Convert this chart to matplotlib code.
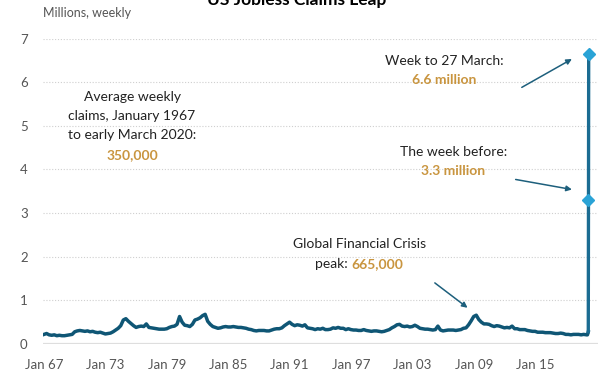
import numpy as np
import matplotlib.pyplot as plt

plt.rcParams['font.family'] = ['Lato', 'DejaVu Sans']

# weekly initial jobless claims (millions), one reading per quarter
years = list(range(1967, 2020))
quarterly_claims = [
    [0.22, 0.24, 0.21, 0.20],  # 1967
    [0.21, 0.19, 0.20, 0.19],
    [0.19, 0.20, 0.21, 0.22],
    [0.28, 0.30, 0.31, 0.30],  # 1970
    [0.29, 0.30, 0.28, 0.29],
    [0.27, 0.26, 0.27, 0.25],
    [0.23, 0.24, 0.25, 0.28],
    [0.32, 0.36, 0.42, 0.55],
    [0.58, 0.52, 0.47, 0.42],  # 1975
    [0.38, 0.40, 0.41, 0.40],
    [0.46, 0.38, 0.37, 0.36],
    [0.35, 0.34, 0.34, 0.34],
    [0.35, 0.38, 0.40, 0.41],
    [0.45, 0.63, 0.50, 0.43],  # 1980
    [0.42, 0.40, 0.45, 0.55],
    [0.57, 0.60, 0.65, 0.68],
    [0.52, 0.45, 0.40, 0.38],
    [0.36, 0.37, 0.39, 0.40],
    [0.39, 0.39, 0.40, 0.39],  # 1985
    [0.38, 0.38, 0.37, 0.36],
    [0.34, 0.33, 0.31, 0.30],
    [0.31, 0.31, 0.31, 0.30],
    [0.30, 0.32, 0.34, 0.35],
    [0.35, 0.37, 0.42, 0.46],  # 1990
    [0.50, 0.45, 0.42, 0.44],
    [0.43, 0.41, 0.44, 0.37],
    [0.36, 0.35, 0.33, 0.35],
    [0.34, 0.36, 0.33, 0.33],
    [0.34, 0.37, 0.36, 0.38],  # 1995
    [0.36, 0.36, 0.33, 0.35],
    [0.33, 0.32, 0.32, 0.31],
    [0.31, 0.33, 0.31, 0.30],
    [0.29, 0.30, 0.30, 0.29],
    [0.28, 0.29, 0.31, 0.33],  # 2000
    [0.37, 0.40, 0.44, 0.45],
    [0.41, 0.40, 0.41, 0.39],
    [0.40, 0.43, 0.40, 0.36],
    [0.35, 0.34, 0.34, 0.33],
    [0.32, 0.33, 0.41, 0.32],  # 2005
    [0.30, 0.31, 0.32, 0.32],
    [0.32, 0.31, 0.32, 0.33],
    [0.36, 0.37, 0.44, 0.53],
    [0.63, 0.66, 0.56, 0.50],
    [0.46, 0.46, 0.45, 0.42],  # 2010
    [0.40, 0.42, 0.41, 0.39],
    [0.37, 0.38, 0.37, 0.41],
    [0.35, 0.35, 0.33, 0.33],
    [0.33, 0.31, 0.30, 0.29],
    [0.29, 0.27, 0.27, 0.27],  # 2015
    [0.26, 0.26, 0.26, 0.25],
    [0.24, 0.24, 0.25, 0.24],
    [0.22, 0.22, 0.21, 0.22],
    [0.22, 0.22, 0.21, 0.22],
]

# early 2020: Jan, Feb, then weeks ending 14, 21 and 28 March
recent_dates = [2020.04, 2020.12, 2020.20, 2020.22, 2020.24]
recent_claims = [0.21, 0.21, 0.28, 3.31, 6.65]

tick_years = [1967, 1973, 1979, 1985, 1991, 1997, 2003, 2009, 2015]
tick_labels = ['Jan 67', 'Jan 73', 'Jan 79', 'Jan 85', 'Jan 91',
               'Jan 97', 'Jan 03', 'Jan 09', 'Jan 15']

navy = '#0f5675'
spike = '#1b6c92'
diamond = '#2aa3d6'
gold = '#c9953f'
grey = '#555555'

x_hist = np.array([y + q / 4 for y in years for q in range(4)])
y_hist = np.array(quarterly_claims).ravel()
x_hist = np.append(x_hist, recent_dates[:3])
y_hist = np.append(y_hist, recent_claims[:3])

fig = plt.figure(figsize=(5.98, 3.74), dpi=100)
ax = fig.add_axes([43 / 598, 30 / 374, 555 / 598, 305.5 / 374])

for level in range(1, 8):
    ax.axhline(level, color='#cfcfcf', lw=0.8, ls=(0, (1, 1.6)), zorder=0)
ax.axhline(0, color='#dedede', lw=1.6, zorder=0)

ax.plot(x_hist, y_hist, color=navy, lw=2.5, solid_joinstyle='round', zorder=3)
ax.plot(recent_dates[2:], recent_claims[2:], color=spike, lw=2.4, zorder=3)
ax.plot(recent_dates[3:], recent_claims[3:], ls='none', marker='D',
        ms=6, color=diamond, zorder=4)

ax.set_xlim(1966.9, 2021.15)
ax.set_ylim(0, 7)
ax.set_yticks(range(0, 8))
ax.set_xticks(tick_years)
ax.set_xticklabels(tick_labels)
ax.tick_params(axis='both', length=0, labelsize=9.5, labelcolor=grey)
ax.tick_params(axis='y', pad=11)
ax.tick_params(axis='x', pad=11)
for side in ax.spines.values():
    side.set_visible(False)

fig.text(297 / 598, 1 - 5 / 374, 'US Jobless Claims Leap', weight='bold',
         size=12.5, ha='center', va='baseline')
fig.text(43 / 598, 1 - 13 / 374, 'Millions, weekly', color=grey, size=9,
         va='center')

txt = dict(ha='center', va='center', size=10, color='#222222')
ax.text(1975.6, 5.66, 'Average weekly', **txt)
ax.text(1975.6, 5.22, 'claims, January 1967', **txt)
ax.text(1975.6, 4.78, 'to early March 2020:', **txt)
ax.text(1975.6, 4.32, '350,000', **dict(txt, color=gold, weight='bold'))

ax.text(2006.1, 6.48, 'Week to 27 March:', **txt)
ax.text(2006.1, 6.04, '6.6 million', **dict(txt, color=gold, weight='bold'))
ax.text(2007.0, 4.40, 'The week before:', **txt)
ax.text(2007.0, 3.97, '3.3 million', **dict(txt, color=gold, weight='bold'))

ax.text(1997.8, 2.28, 'Global Financial Crisis', **txt)
ax.text(1997.0, 1.84, 'peak: ', **dict(txt, ha='right'))
ax.text(1997.0, 1.84, '665,000', **dict(txt, ha='left', color=gold, weight='bold'))

arrow = dict(arrowstyle='-|>', color='#1d5f7c', lw=1.1, mutation_scale=8,
             shrinkA=0, shrinkB=0)
ax.annotate('', xy=(2018.6, 6.53), xytext=(2013.7, 5.88), arrowprops=arrow)
ax.annotate('', xy=(2018.6, 3.54), xytext=(2013.1, 3.77), arrowprops=arrow)
ax.annotate('', xy=(2008.4, 0.83), xytext=(2005.2, 1.40), arrowprops=arrow)

fig.savefig('out.png', dpi=100)
